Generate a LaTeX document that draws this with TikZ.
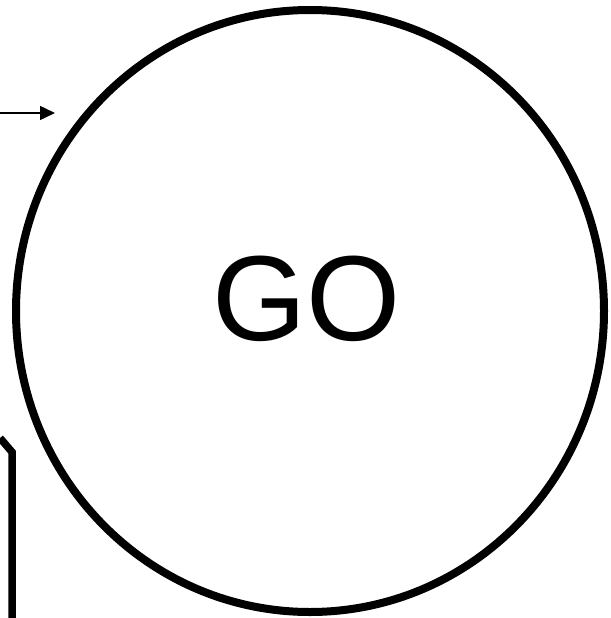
\documentclass[tikz,border=0pt]{standalone}
\usepackage{fontspec}
\setmainfont{Liberation Sans}
\usetikzlibrary{arrows.meta,positioning,calc,shapes.geometric}
\definecolor{goink}{HTML}{000000}
\tikzset{
  goCircle/.style={draw=goink, ellipse, line width=8pt, minimum width=588pt, minimum height=602pt, inner sep=0pt},
  goLabel/.style={font=\fontsize{121}{121}\selectfont, inner sep=0pt, text=goink},
  feedArrow/.style={-{Triangle[length=15pt,width=14pt]}, line width=1.5pt, draw=goink},
  sideLine/.style={line width=7.5pt, draw=goink, miter limit=4}
}

\begin{document}
\begin{tikzpicture}[x=1pt,y=-1pt]
  \useasboundingbox (0,0) rectangle (610,618);
  \node[goCircle] (go) at (310,311) {};
  \node[goLabel] (goText) at ($(go.center)+(-3.5,-12.5)$) {GO};
  \coordinate (feedIn) at (0,113);
  \coordinate (feedTip) at (55,113);
  \draw[feedArrow] (feedIn) -- (feedTip);
  \coordinate (sideTop) at (0,438);
  \coordinate (sideBend) at (12,452);
  \coordinate (sideEnd) at (12,622);
  \draw[sideLine] (sideTop) -- (sideBend) -- (sideEnd);
\end{tikzpicture}
\end{document}
